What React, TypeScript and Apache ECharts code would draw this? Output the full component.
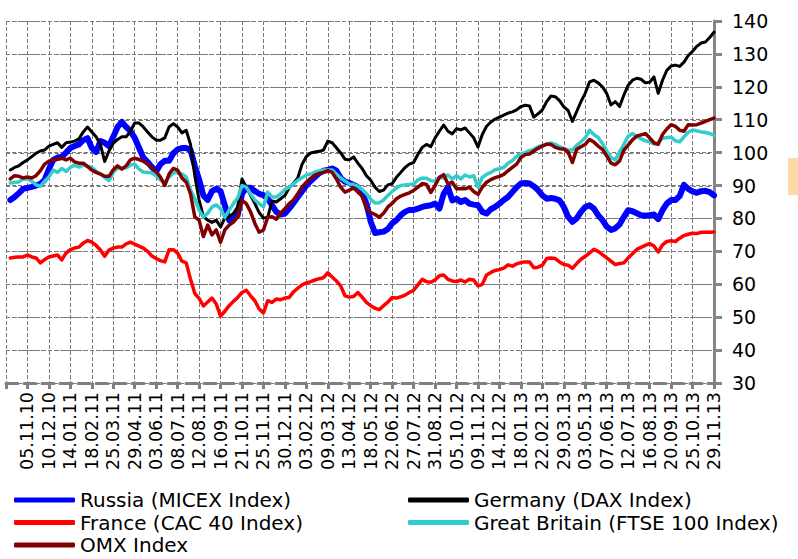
import React, { useEffect, useRef } from "react";
import * as echarts from "echarts";

// Tick labels shown on the category axis (every 5th week)
const tickLabels = [
  "05.11.10", "10.12.10", "14.01.11", "18.02.11", "25.03.11", "29.04.11", "03.06.11", "08.07.11",
  "12.08.11", "16.09.11", "21.10.11", "25.11.11", "30.12.11", "03.02.12", "09.03.12", "13.04.12",
  "18.05.12", "22.06.12", "27.07.12", "31.08.12", "05.10.12", "09.11.12", "14.12.12", "18.01.13",
  "22.02.13", "29.03.13", "03.05.13", "07.06.13", "12.07.13", "16.08.13", "20.09.13", "25.10.13",
  "29.11.13",
];

// Weekly categories: an empty lead week (01.10.10), then the data weeks 08.10.10 .. 29.11.13.
// With the lead week, every 5th category (index 0, 5, 10, ...) falls on a labelled date.
const AXIS_START = Date.UTC(2010, 9, 1);
const WEEK_COUNT = 166;
const pad = (n: number) => (n < 10 ? "0" + n : "" + n);
const categories: string[] = Array.from({ length: WEEK_COUNT }, (_, i) => {
  const d = new Date(AXIS_START + i * 7 * 86400000);
  return pad(d.getUTCDate()) + "." + pad(d.getUTCMonth() + 1) + "." + pad(d.getUTCFullYear() % 100);
});

const yTicks = [30, 40, 50, 60, 70, 80, 90, 100, 110, 120, 130, 140];

const russia = [
  85.6, 86.5, 87.7, 89, 89.3, 89.6, 90, 90.5, 91.7, 95,
  97.8, 98.5, 98.7, 100, 101.4, 102, 102.5, 103.8, 104.4, 101.4,
  100.2, 103.5, 103, 102, 104.8, 107.8, 109.3, 107.8, 106.5, 104.5,
  101.5, 98.5, 97.2, 95.6, 94.3, 96.5, 97.5, 97.5, 99.8, 101,
  101.4, 101.4, 100.8, 96, 91.8, 87, 85.6, 88.3, 89, 88.3,
  84, 79.5, 79.8, 81, 87.5, 89.3, 89.3, 88.3, 87.5, 87.1,
  86, 84, 82, 81.2, 81.5, 83, 84.7, 86.5, 88.3, 90,
  91.4, 92.6, 93.8, 94.5, 94.7, 95.2, 94.5, 92.3, 91.2, 90.8,
  90.2, 89.5, 87.7, 84.5, 79, 75.6, 75.8, 76, 76.8, 78.5,
  79.5, 81, 82, 82.6, 82.6, 83, 83.5, 83.8, 84, 84.5,
  83, 87.5, 89.5, 85.5, 86, 85, 85.6, 84.5, 84.2, 84,
  82, 81.5, 82.8, 83.5, 84.5, 85.6, 86.5, 88, 89.5, 90.6,
  90.8, 90.6, 89.8, 88.6, 87, 86, 86.2, 86, 85.5, 83.5,
  80.5, 79, 80, 82, 83.5, 84, 83, 81, 79.5, 77.5,
  76.5, 77, 78.2, 80.5, 82.5, 82.2, 81.6, 81, 80.8, 81,
  81.2, 79.8, 82.5, 84.5, 85.6, 85.6, 86.8, 90.2, 89, 88.2,
  87.8, 88.3, 88.4, 88, 87,
];

const germany = [
  94.7, 95.5, 96, 97, 97.8, 98.8, 99.8, 100.5, 100.8, 102,
  102.5, 103, 101.6, 103, 103.2, 103.5, 104.2, 106.3, 107.8, 106.3,
  104.8, 102.5, 97.3, 100.5, 102.8, 104, 104.8, 104.8, 106.5, 109,
  109, 107.8, 106.3, 104.8, 103.8, 103.8, 104.5, 107.8, 108.8, 107.8,
  106, 106.8, 102.5, 93, 85.6, 80.6, 79.5, 78.8, 79.5, 77.4,
  80.2, 80.4, 81.5, 83.5, 92, 89.6, 87, 84.5, 81.8, 80.1,
  80.4, 85.3, 85, 86, 87, 89.3, 90.7, 92.3, 96.5, 98.8,
  99.9, 100.2, 100.4, 100.8, 103.5, 103, 101.5, 99.9, 98, 97.8,
  98.7, 96.8, 95.2, 93, 91.6, 89.5, 88.2, 88.6, 90.2, 90.6,
  92.5, 94, 95.5, 96.5, 97, 99.5, 101.6, 102.5, 101.8, 104.5,
  106.5, 108.4, 106.5, 105.7, 107.3, 106.9, 107.5, 106, 104.5, 101.7,
  105.5, 108, 109.3, 110.2, 110.8, 111.4, 112, 112.4, 113, 114,
  114.4, 114.2, 110.8, 111.8, 113, 115.5, 117.2, 117, 115.8, 113.9,
  112.8, 109.5, 112.5, 115.5, 118.1, 121.5, 122, 121.2, 120, 118,
  114.5, 115.5, 114, 117.5, 120.5, 122, 122.6, 122.3, 121.2, 121.4,
  123, 118, 122, 125, 126.3, 126.6, 126.2, 127.5, 129.5, 130.8,
  132.3, 133.3, 133.6, 135, 136.6,
];

const france = [
  68, 68.2, 68.3, 68.3, 68.9, 68.3, 68, 66.5, 67.5, 68.3,
  68.6, 68.9, 67.4, 69.5, 70.5, 71, 71.3, 72.5, 73.3, 72.8,
  71.8, 70.4, 68.5, 70.4, 71, 71.3, 71.3, 72.3, 72.8, 72.2,
  71.6, 71, 70, 68.6, 67.8, 67.2, 66.8, 70.5, 70.5, 69.5,
  67, 66.5, 61.5, 57.2, 55.7, 53.4, 54.6, 55.8, 54, 50.3,
  51.8, 53.5, 54.8, 56, 57.5, 58.2, 56.5, 55, 52.5, 51.3,
  55, 54.5, 55.5, 55.3, 55.8, 56, 57.7, 58.8, 59.8, 60.4,
  60.8, 61.3, 61.7, 62, 63.5, 62.2, 61, 59.5, 56.5, 56.1,
  56.3, 57.5, 56.1, 54.5, 53.5, 52.7, 52.3, 53.5, 54.6, 56,
  55.8, 56.2, 56.7, 57.5, 58.2, 59.8, 61.5, 60.8, 60.6, 61.3,
  62.6, 62.8, 61.5, 61, 60.8, 61.3, 60.7, 61.5, 61.3, 59.5,
  60, 62.8, 63.6, 64.2, 64.5, 64.9, 65.9, 65.5, 66.2, 66.6,
  66.8, 66.8, 65, 65.2, 65.8, 67.8, 68, 67.8, 66.8, 66,
  65.8, 64.8, 66.3, 67.6, 68.5, 69.5, 70.6, 70, 69, 68,
  67, 66, 66.3, 66.5, 68, 69.3, 70.6, 71.2, 71.8, 72.4,
  71.6, 69.8, 72, 73, 73.2, 73, 74, 74.8, 75.2, 75.5,
  75.4, 75.8, 75.8, 75.8, 75.9,
];

const greatBritain = [
  90.8, 91, 91.1, 92, 92, 91.3, 90.2, 89.8, 91.3, 92.6,
  94.7, 94, 95.2, 94.3, 95.5, 96.2, 95.6, 96.2, 95.8, 95.5,
  94.4, 93.5, 92.5, 91.5, 94, 95.3, 95.3, 95.4, 96.2, 96.5,
  95, 94.1, 94, 93.8, 93, 91.7, 91, 92.6, 93.8, 94,
  93.5, 92.6, 88.6, 86, 82.5, 80.4, 81.6, 83.5, 84.1, 83,
  80.3, 82.5, 84.5, 86.2, 90, 89.5, 87.5, 85.6, 84.5, 83.5,
  88, 86.5, 86.5, 87.5, 88.8, 89.5, 90.5, 91.6, 92.4, 93.2,
  93.5, 94.1, 94.4, 94.7, 94.7, 94.7, 93.5, 92.3, 91.4, 90.5,
  90.3, 89.8, 88.8, 87.5, 85.8, 84.7, 84.8, 85.6, 87, 88.2,
  89.3, 90, 90.2, 90.3, 90.5, 91.7, 92.3, 92.2, 91.5, 91.3,
  92.5, 92.3, 93.2, 92, 93, 92, 93.2, 92.6, 93, 89.5,
  92.5, 93.4, 94, 94.8, 95.1, 95.5, 96.8, 97.6, 98.8, 99.6,
  100, 100.6, 101, 101.8, 102.2, 102.5, 103, 102.5, 101.8, 101.3,
  100.8, 100.8, 102.2, 103.3, 104.5, 106.8, 105.5, 104.6, 102.8, 100.5,
  98.5, 97.8, 100.3, 102.5, 105, 105.8, 105, 104.2, 103.6, 103.3,
  102.6, 103, 104.4, 104.6, 104.7, 103.6, 103.3, 104.8, 106.2, 106.9,
  106.6, 106.3, 106.1, 105.8, 105.3,
];

const omx = [
  92, 93, 92.8, 92.3, 92.6, 92.3, 93, 94.5, 96.5, 97.4,
  97.8, 98, 98.3, 97.8, 98.3, 97.2, 96.8, 96.8, 95.8, 94.7,
  94, 93.5, 92.8, 92.8, 94.8, 96, 95, 96, 97.8, 98.3,
  97.9, 97.4, 96.5, 95.3, 94.2, 92.6, 90, 93.5, 95.2, 94.7,
  92.3, 91, 87.5, 80.5, 79.5, 74.5, 78, 75, 76.5, 72.8,
  76.5, 78, 78.9, 80.5, 85.5, 84.5, 82, 78.5, 75.8, 76.5,
  80.4, 80.5, 79.8, 81.6, 83, 84.5, 85.6, 87.5, 89.6, 91,
  92.2, 93.2, 93.7, 94, 94.5, 94, 92, 89.5, 88, 88.6,
  89.3, 88, 86.8, 83, 81.8, 81.2, 80.4, 81.6, 83.5, 84.6,
  86, 86.8, 87.3, 87.8, 88.5, 89.5, 90.6, 90.3, 87.9, 90,
  92.5, 93.3, 90.5, 91, 89, 89, 89, 89.5, 88.2, 87.3,
  89.5, 91, 91.8, 92.4, 92.8, 93.4, 94.5, 95.5, 96.5, 98.5,
  99.4, 99.6, 100.5, 101.3, 102, 102.6, 102.5, 101.6, 101.2, 101.1,
  100.2, 97, 101, 101.8, 102.5, 104, 103.2, 102, 101, 99,
  96.8, 96.3, 97.5, 100.8, 102.3, 103.9, 105, 105.4, 105.8, 104.5,
  103, 102.5, 105.5, 107.2, 108.5, 108, 106.8, 106.5, 108.5, 108.4,
  108.5, 109, 109.5, 110, 110.5,
];

const seriesNames = [
  "Russia (MICEX Index)",
  "Germany (DAX Index)",
  "France (CAC 40 Index)",
  "Great Britain (FTSE 100 Index)",
  "OMX Index",
];

const FONT = "DejaVu Sans";
const GRID_COLOR = "#7a7a7a";
const AXIS_COLOR = "#808080";

export default function App() {
  const ref = useRef<HTMLDivElement>(null);

  useEffect(() => {
    if (!ref.current) return;
    const chart = echarts.init(ref.current, null, { renderer: "svg" });

    const mkLine = (name: string, data: number[], color: string, width: number) => ({
      name,
      type: "line",
      data: [null, ...data],
      showSymbol: false,
      symbol: "none",
      connectNulls: false,
      lineStyle: { color, width, join: "round", cap: "round" },
      itemStyle: { color },
      emphasis: { disabled: true },
      z: 3,
    });

    const legendBase = {
      orient: "vertical",
      top: 489,
      itemWidth: 61,
      itemHeight: 5,
      itemGap: 0.5,
      padding: 0,
      icon: "roundRect",
      textStyle: { fontSize: 20, lineHeight: 22, color: "#000", fontFamily: FONT },
    };

    chart.setOption({
      animation: false,
      backgroundColor: "#ffffff",
      textStyle: { fontFamily: FONT },
      grid: { left: 6, right: 84, top: 21, bottom: 176, containLabel: false },
      legend: [
        { ...legendBase, left: 14, data: [seriesNames[0], seriesNames[2], seriesNames[4]] },
        { ...legendBase, left: 408, data: [seriesNames[1], seriesNames[3]] },
      ],
      xAxis: {
        type: "category",
        data: categories,
        boundaryGap: false,
        axisLine: { show: true, onZero: false, lineStyle: { color: AXIS_COLOR, width: 3, type: "dashed" } },
        axisTick: { show: true, interval: 4, length: 6, lineStyle: { color: AXIS_COLOR, width: 3 } },
        axisLabel: {
          interval: (index: number) => index >= 5 && index % 5 === 0,
          rotate: 90,
          margin: 9,
          fontSize: 17.5,
          color: "#000",
          fontFamily: FONT,
        },
        splitLine: { show: true, interval: 4, lineStyle: { color: GRID_COLOR, width: 1, type: "dashed" } },
      },
      yAxis: {
        type: "value",
        position: "right",
        min: 30,
        max: 140,
        interval: 10,
        axisLine: { show: true, lineStyle: { color: "#868686", width: 3 } },
        axisTick: { show: true, length: 8, lineStyle: { color: "#868686", width: 3 } },
        axisLabel: { margin: 18, fontSize: 19, color: "#000", fontFamily: FONT },
        splitLine: { show: true, lineStyle: { color: GRID_COLOR, width: 1, type: "dashed" } },
      },
      series: [
        mkLine(seriesNames[0], russia, "#0000ff", 6),
        mkLine(seriesNames[1], germany, "#000000", 3),
        mkLine(seriesNames[2], france, "#ff0000", 3.5),
        mkLine(seriesNames[3], greatBritain, "#33cccc", 3.5),
        mkLine(seriesNames[4], omx, "#800000", 3.5),
      ],
    });

    // Extra horizontal grid lines, placed through the value axis
    const px = (label: string) => chart.convertToPixel({ xAxisIndex: 0 }, label) as number;
    const py = (v: number) => chart.convertToPixel({ yAxisIndex: 0 }, v) as number;
    const crisp = (p: number) => Math.round(p) + 0.5;
    const xLeft = px(categories[0]);
    const xRight = px(categories[categories.length - 1]);

    const hStyle = { stroke: GRID_COLOR, lineWidth: 1, lineDash: [4, 3] };
    const elements: any[] = [];
    yTicks.slice(1).forEach((v) => {
      const y = crisp(py(v));
      elements.push({ type: "line", silent: true, z: 0, shape: { x1: xLeft, y1: y, x2: xRight, y2: y }, style: hStyle });
    });
    elements.push({ type: "rect", silent: true, shape: { x: 788, y: 158, width: 12, height: 37 }, style: { fill: "#fdd8a8" } });

    chart.setOption({ graphic: { elements } });

    return () => chart.dispose();
  }, []);

  return (
    <div
      ref={ref}
      style={{ position: "fixed", left: 0, top: 0, width: 798, height: 559, background: "#fff" }}
    />
  );
}
